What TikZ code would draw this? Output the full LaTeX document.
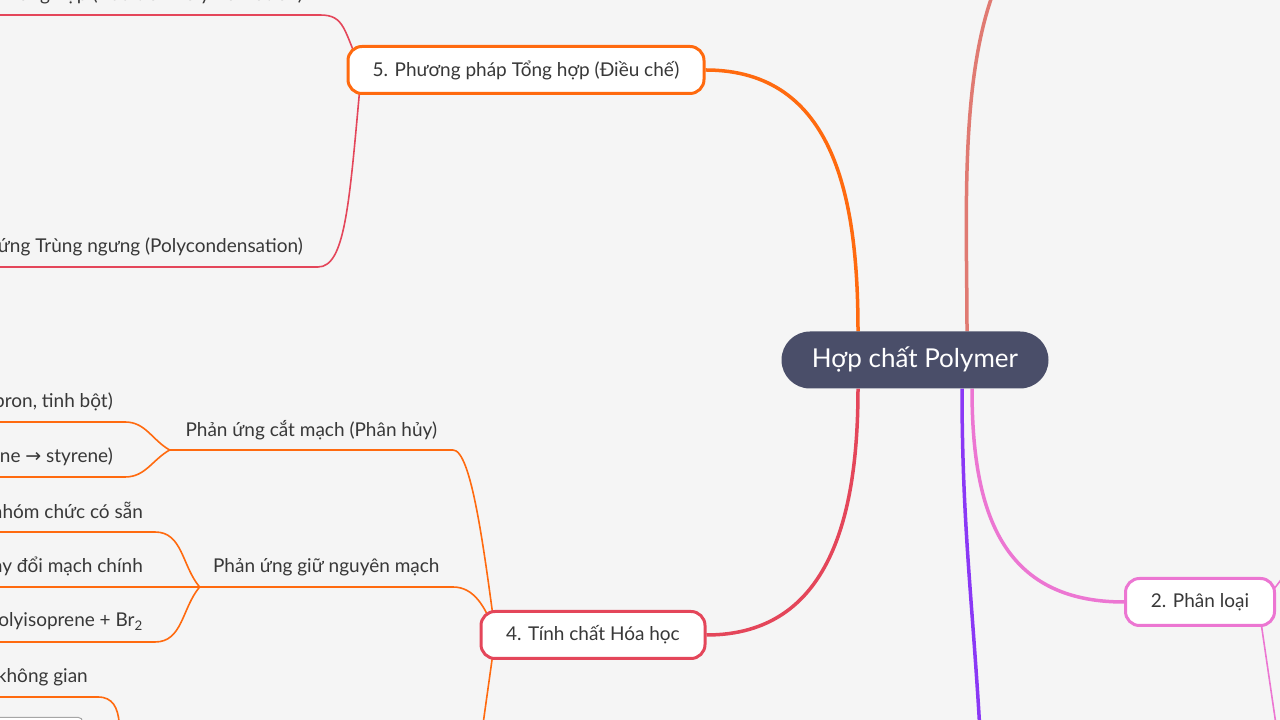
\documentclass[tikz,border=0pt]{standalone}
\usepackage{fontspec}
\setmainfont{Lato}
\newfontfamily\symfont{DejaVu Sans}
\usetikzlibrary{topaths,calc}
\definecolor{bgray}{HTML}{F5F5F5}
\definecolor{hubblue}{HTML}{4A4E69}
\definecolor{mmorange}{HTML}{FF6A0F}
\definecolor{mmred}{HTML}{E4465A}
\definecolor{mmsalmon}{HTML}{E07A72}
\definecolor{mmpurple}{HTML}{8A38F5}
\definecolor{mmpink}{HTML}{EC76D2}
\definecolor{txtgray}{HTML}{383838}
\pgfdeclarelayer{background}
\pgfsetlayers{background,main}

\begin{document}
\begin{tikzpicture}[x=1pt, y=1pt,
  hub/.style = {fill=hubblue, text=white, rounded corners=28.5pt, minimum width=267pt, minimum height=57pt, font=\fontsize{26}{30}\selectfont},
  topic/.style = {draw, fill=white, line width=3pt, rounded corners=14pt, minimum height=47pt, text=txtgray, font=\fontsize{19}{22}\selectfont},
  sub/.style = {anchor=south east, inner xsep=0pt, minimum height=40pt, text=txtgray, font=\fontsize{19}{22}\selectfont},
  leaf/.style = {anchor=south east, inner xsep=12pt, minimum height=40pt, text=txtgray, font=\fontsize{19}{22}\selectfont},
  conn/.style = {line width=3.5pt},
  twig/.style = {line width=1.6pt}]
  \path[use as bounding box] (0,0) rectangle (1280,720);
  \clip (0,0) rectangle (1280,720);

  \node[hub] (hub) at (915,360) {Hợp chất Polymer};
  \node[topic, draw=mmorange, minimum width=356pt] (dieuche) at (526,650) {5. Phương pháp Tổng hợp (Điều chế)};
  \node[topic, draw=mmred, minimum width=224pt] (hoahoc) at (593,85) {4. Tính chất Hóa học};
  \node[topic, draw=mmpink, minimum width=149pt] (phanloai) at (1200,118) {2. Phân loại};

  \node[leaf, inner xsep=17pt] (trunghop) at (320,705) {Phản ứng Trùng hợp (Addition Polymerization)};
  \node[leaf, inner xsep=15pt] (trungngung) at (318,453) {Phản ứng Trùng ngưng (Polycondensation)};

  \node[sub, minimum width=283pt] (catmach) at (453,270) {Phản ứng cắt mạch (Phân hủy)};
  \node[sub, minimum width=253pt] (giunguyen) at (453,133) {Phản ứng giữ nguyên mạch};
  \node[leaf] (thuyphan) at (125,298) {Thủy phân (tơ capron, tinh bột)};
  \node[leaf] (nhietphan) at (125,243) {Nhiệt phân (polystyrene {\symfont →} styrene)};
  \node[leaf] (nhomchuc) at (155,188) {Phản ứng của nhóm chức có sẵn};
  \node[leaf] (khongdoi) at (155,133) {Không thay đổi mạch chính};
  \node[leaf] (vidu) at (155,78) {Ví dụ: Polyisoprene + Br\textsubscript{2}};
  \node[leaf, inner xsep=10pt] (khonggian) at (98,23) {Phản ứng tạo mạng không gian};
  \node[draw=gray!70, fill=white, line width=1pt, rounded corners=4pt, anchor=north east, minimum width=200pt, minimum height=60pt] (hopxam) at (83,3) {};

  \coordinate (tongquan) at (1130,830);
  \coordinate (cautruc) at (981,-30);
  \coordinate (phanloaia) at (1300,165);
  \coordinate (phanloaib) at (1279,-25);
  \coordinate (hoahocc) at (478,-40);
  \coordinate (khonggiansub) at (120,-50);

  \begin{pgfonlayer}{background}
    \clip (0,0) rectangle (1280,720);
    \fill[bgray] (0,0) rectangle (1280,720);

    \draw[conn, mmorange] ([xshift=-57pt]hub.north) to[out=90,in=0,looseness=1.1] (dieuche.east);
    \draw[conn, mmred] ([xshift=-57pt]hub.south) to[out=-90,in=0,looseness=1.1] (hoahoc.east);
    \draw[conn, mmsalmon] ([xshift=52pt]hub.north) to[out=90,in=180] (tongquan);
    \draw[conn, mmpurple] ([xshift=47pt]hub.south) to[out=-90,in=93] (cautruc);
    \draw[conn, mmpink] ([xshift=57pt]hub.south) to[out=-90,in=180,looseness=1.2] (phanloai.west);

    \draw[twig, mmred] ([xshift=15pt]dieuche.west) .. controls +(-18,40) and +(25,0) .. (trunghop.south east);
    \draw[twig, mmred] ([xshift=15pt]dieuche.west) .. controls +(-12,-130) and +(28,0) .. (trungngung.south east);
    \foreach \n in {trunghop,trungngung}
      \draw[twig, mmred] (\n.south west) -- (\n.south east);

    \draw[twig, mmorange] (catmach.south east) .. controls +(18,0) and +(-12,90) .. ([xshift=16pt]hoahoc.west);
    \draw[twig, mmorange] (giunguyen.south east) .. controls +(20,0) and +(-10,30) .. ([xshift=16pt]hoahoc.west);
    \draw[twig, mmorange] ([xshift=16pt]hoahoc.west) -- (hoahocc);
    \draw[twig, mmorange] (catmach.south west) to[out=150,in=0] (thuyphan.south east);
    \draw[twig, mmorange] (catmach.south west) to[out=210,in=0] (nhietphan.south east);
    \draw[twig, mmorange] (giunguyen.south west) to[out=130,in=0] (nhomchuc.south east);
    \draw[twig, mmorange] (giunguyen.south west) -- (khongdoi.south east);
    \draw[twig, mmorange] (giunguyen.south west) to[out=230,in=0] (vidu.south east);
    \draw[twig, mmorange] (khonggian.south east) to[out=0,in=95] (khonggiansub);
    \foreach \n in {catmach,giunguyen,thuyphan,nhietphan,nhomchuc,khongdoi,vidu,khonggian}
      \draw[twig, mmorange] (\n.south west) -- (\n.south east);

    \draw[twig, mmpink] ([xshift=-18pt]phanloai.east) -- (phanloaib);
    \draw[twig, mmpink] ([xshift=-18pt]phanloai.east) to[out=30,in=225] (phanloaia);
  \end{pgfonlayer}
\end{tikzpicture}
\end{document}
